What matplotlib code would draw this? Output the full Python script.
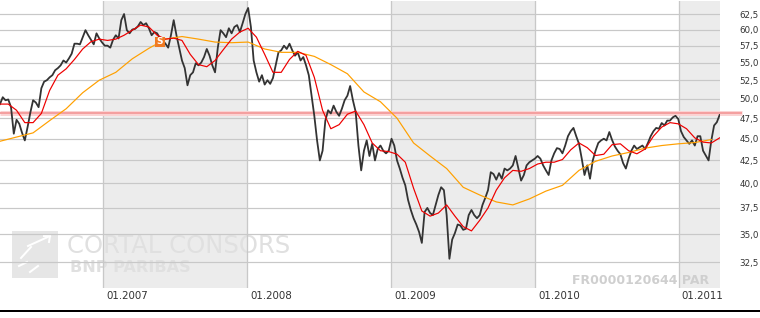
import pandas as pd
import matplotlib
matplotlib.use("Agg")
import matplotlib.pyplot as plt
from matplotlib.lines import Line2D
from matplotlib.patches import Rectangle
from matplotlib.transforms import ScaledTranslation, blended_transform_factory

# weekly closes, first week ending 14.04.2006
first_week = "2006-04-14"
close = [
    49.3, 50.2, 49.8, 49.9, 48.9, 45.6, 47.3, 46.8, 45.7, 44.8,
    46.4, 48.2, 49.8, 49.5, 48.9, 51.4, 52.3, 52.5, 52.9, 53.2,
    53.9, 54.2, 54.6, 55.3, 55.0, 55.6, 56.3, 57.8, 57.8, 57.7,
    58.8, 59.9, 59.1, 58.4, 57.7, 59.4, 58.6, 58.0, 57.5, 57.5,
    57.2, 58.4, 59.1, 58.6, 61.5, 62.5, 59.9, 59.4, 60.0, 60.1,
    60.5, 61.2, 60.7, 61.0, 60.2, 59.1, 59.6, 59.4, 58.6, 58.3,
    57.8, 57.2, 59.1, 61.5, 59.1, 57.2, 55.3, 54.2, 51.8, 53.2,
    53.6, 54.9, 54.6, 55.0, 55.8, 57.0, 56.0, 54.6, 53.6, 57.2,
    59.9, 59.4, 58.8, 60.2, 59.4, 60.4, 60.7, 59.6, 61.0, 62.5,
    63.5, 60.4, 55.3, 53.6, 52.3, 53.2, 51.9, 52.5, 52.0, 52.8,
    54.6, 56.5, 56.8, 57.5, 57.0, 57.8, 56.8, 56.0, 56.5, 55.3,
    55.8, 54.6, 53.2, 50.4, 47.8, 44.8, 42.5, 43.6, 47.2, 48.5,
    48.1, 49.1, 48.3, 47.8, 48.7, 49.8, 50.4, 51.7, 49.8, 48.3,
    44.2, 41.4, 43.6, 44.8, 43.0, 44.4, 42.5, 43.8, 44.2, 43.6,
    43.3, 43.6, 45.0, 44.2, 42.5, 41.6, 40.6, 39.8, 38.3, 37.3,
    36.5, 35.9, 35.2, 34.2, 37.1, 37.5, 37.0, 36.8, 37.8, 38.8,
    39.6, 39.3, 36.8, 32.8, 34.5, 35.1, 35.9, 35.8, 35.4, 35.5,
    36.8, 37.3, 36.8, 36.5, 36.8, 37.8, 38.5, 39.3, 41.2, 41.0,
    40.4, 41.1, 40.5, 41.6, 41.4, 41.6, 41.95, 43.0, 41.6, 40.3,
    40.9, 41.95, 42.3, 42.5, 42.7, 43.0, 42.7, 41.95, 41.4, 40.9,
    42.5, 43.3, 43.9, 43.8, 43.3, 44.2, 45.3, 45.9, 46.3, 45.3,
    44.4, 42.7, 40.9, 41.95, 40.5, 42.5, 43.6, 44.5, 44.8, 45.0,
    44.8, 45.8, 44.85, 44.1, 43.6, 43.2, 42.2, 41.6, 42.7, 43.6,
    44.2, 43.8, 44.0, 44.2, 43.8, 44.5, 45.3, 45.9, 46.3, 46.2,
    46.9, 46.6, 47.2, 47.2, 47.6, 47.8, 47.4, 45.9, 45.2, 44.8,
    44.4, 44.8, 44.2, 45.3, 45.3, 43.6, 43.05, 42.5, 44.8, 46.6,
    47.0, 47.9,
]

# short moving average, read every 3rd week
ma_fast = [
    49.3, 49.3, 48.5, 46.95, 46.95, 48.1, 51.1, 53.2, 54.1, 55.45,
    57.0, 58.1, 58.5, 58.3, 58.5, 59.1, 59.9, 60.7, 60.4, 59.1,
    58.5, 58.65, 58.3, 56.2, 54.7, 54.4, 55.3, 56.9, 58.5, 59.6,
    60.2, 58.8, 56.2, 53.6, 53.6, 55.45, 56.65, 56.05, 52.9, 48.5,
    46.2, 46.7, 48.0, 48.4, 46.7, 44.5, 43.6, 43.5, 43.2, 42.3,
    39.5, 37.2, 36.7, 37.0, 37.8, 36.7, 35.7, 35.3, 36.3, 37.5,
    39.3, 40.6, 41.4, 41.3, 41.6, 42.1, 42.3, 42.3, 42.6, 43.7,
    44.5, 43.95, 43.05, 43.2, 44.3, 44.4, 43.6, 43.25, 43.8, 45.3,
    46.4, 46.95, 46.8, 46.2, 45.1, 44.6, 44.5, 45.1,
]

# long moving average, read every 6th week
ma_slow = [
    44.7, 45.2, 45.7, 47.2, 48.7, 50.8, 52.5, 53.6, 55.55, 57.1,
    58.5, 58.9, 58.5, 58.05, 57.95, 58.05, 57.0, 56.5, 56.5, 55.9,
    54.7, 53.4, 50.9, 49.6, 47.5, 44.5, 43.0, 41.6, 39.6, 38.8,
    38.1, 37.8, 38.4, 39.2, 39.8, 41.4, 42.4, 43.0, 43.4, 43.9,
    44.2, 44.4, 44.55, 44.9,
]

resistance = 48.13
signal_week = 58
signal_price = 58.1

y_ticks = [32.5, 35.0, 37.5, 40.0, 42.5, 45.0, 47.5, 50.0, 52.5, 55.0, 57.5, 60.0, 62.5]
years = [2007, 2008, 2009, 2010, 2011]
shaded_years = [2007, 2009, 2011]

weeks = pd.date_range(first_week, periods=len(close), freq="7D")

W, H = 760, 318
fig = plt.figure(figsize=(W / 100, H / 100), dpi=100)
ax = fig.add_axes([0, 1 - 288 / H, 720 / W, 287 / H])
ax.set_yscale("log")
ax.set_xlim(pd.Timestamp("2006-04-14"), pd.Timestamp("2011-04-16"))
ax.set_ylim(30.37, 64.68)
for s in ax.spines.values():
    s.set_visible(False)

PX = 0.72  # one pixel in points

for y in shaded_years:
    ax.axvspan(pd.Timestamp(f"{y}-01-01"), pd.Timestamp(f"{y + 1}-01-01"),
               color="#ececec", lw=0, zorder=0)
for v in y_ticks:
    ax.axhline(v, color="#c8c8c8", lw=1.2 * PX, zorder=1)
for y in years:
    ax.axvline(pd.Timestamp(f"{y}-01-01"), color="#c8c8c8", lw=1.3 * PX, zorder=1)


def axpt(x, y):
    return x / 720, (288 - y) / 287


# watermark
ax.add_patch(Rectangle(axpt(12, 278), 46 / 720, 47 / 287, transform=ax.transAxes,
                       color="#e6e6e6", lw=0, zorder=0.8))
for (x0, y0), (x1, y1) in [((28, 246), (50, 236)), ((44, 236), (50, 236)),
                           ((50, 236), (49, 242)), ((21, 258), (31, 247)),
                           ((19, 266), (27, 262)), ((30, 272), (38, 266))]:
    ax.add_line(Line2D([x0 / 720, x1 / 720], [(288 - y0) / 287, (288 - y1) / 287],
                       transform=ax.transAxes, color="white", lw=2 * PX, zorder=0.85))
ax.text(*axpt(67, 253), "CORTAL CONSORS", transform=ax.transAxes, fontsize=17.5,
        color="#e0e0e0", va="baseline", ha="left", zorder=0.9)
ax.text(*axpt(70, 272), "BNP PARIBAS", transform=ax.transAxes, fontsize=11.6,
        fontweight="bold", color="#e0e0e0", va="baseline", ha="left", zorder=0.9)
ax.text(*axpt(709, 284), "FR0000120644 PAR", transform=ax.transAxes, fontsize=9,
        fontweight="bold", color="#cfcfcf", va="baseline", ha="right", zorder=0.9)

# series
ax.plot(weeks, close, color="#333333", lw=1.8 * PX, zorder=3)
ax.plot(weeks[::6], ma_slow, color="#ffa000", lw=1.2 * PX, zorder=4)
ax.plot(weeks[::3], ma_fast, color="#ee0000", lw=1.2 * PX, zorder=5)

# resistance line, runs under the axis labels
bt = blended_transform_factory(ax.transAxes, ax.transData)
ax.plot([0, 742 / 720], [resistance, resistance], transform=bt, clip_on=False,
        color="#fbd3d3", lw=5 * PX, zorder=2, solid_capstyle="butt")
ax.plot([0, 742 / 720], [resistance, resistance], transform=bt, clip_on=False,
        color="#f4a0a0", lw=2 * PX, zorder=2, solid_capstyle="butt")

# signal marker
ax.scatter([weeks[signal_week]], [signal_price], marker="s", s=(10 * PX) ** 2,
           color="#f07a22", edgecolors="none", zorder=6)
ax.text(weeks[signal_week], signal_price, "S", color="white", fontsize=6.5,
        fontweight="bold", ha="center", va="center", zorder=7)

# axes labels
ax.yaxis.tick_right()
ax.set_yticks(y_ticks)
ax.set_yticklabels([f"{v:.1f}".replace(".", ",") for v in y_ticks])
ax.yaxis.set_minor_locator(matplotlib.ticker.NullLocator())
ax.tick_params(axis="y", length=0, pad=14.2, labelsize=6.3, labelcolor="#333333")

ax.set_xticks([])
xt = blended_transform_factory(ax.transData, ax.transAxes)
shift = ScaledTranslation(3 / 100, -3 / 100, fig.dpi_scale_trans)
for y in years:
    ax.text(pd.Timestamp(f"{y}-01-01"), 0, f"01.{y}", transform=xt + shift,
            fontsize=7.4, color="#333333", ha="left", va="top")

fig.add_artist(Line2D([0, 1], [1 - 311 / H] * 2, color="black", lw=2 * PX))

fig.savefig("out.png", dpi=100)
